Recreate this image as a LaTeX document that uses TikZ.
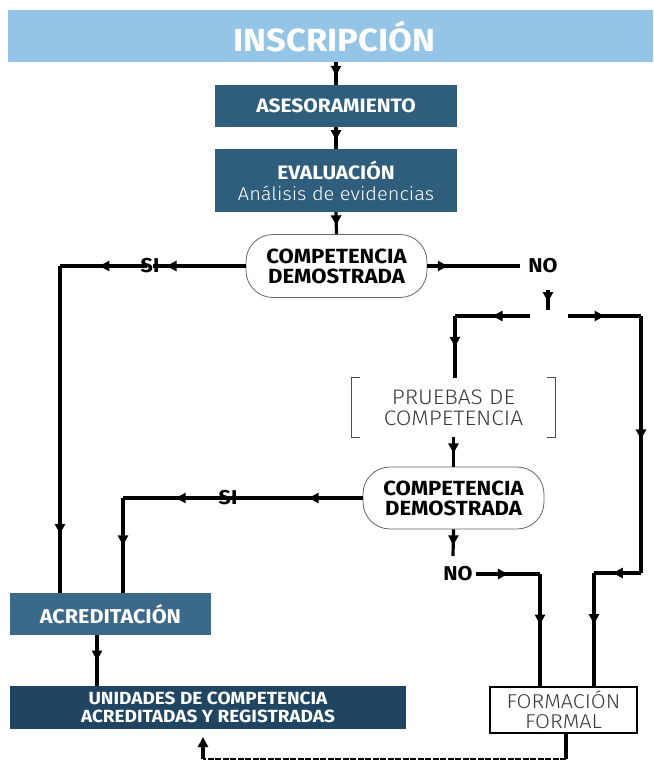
\documentclass[tikz,border=0pt]{standalone}
\usepackage{fontspec}
\setmainfont{Fira Sans}[FakeStretch=1.08]
\newfontfamily\lightf{Fira Sans}[UprightFont={* Light},FakeStretch=1.08]
\usetikzlibrary{arrows.meta,decorations.markings,positioning}
\definecolor{lblue}{HTML}{95C5E6}
\definecolor{dblue}{HTML}{2F5D7C}
\definecolor{mblue}{HTML}{3A6989}
\definecolor{nblue}{HTML}{1F4562}
\definecolor{gtext}{HTML}{3A3A3A}
\tikzset{
  flow/.style={line width=3.2pt,black},
  ma/.style={postaction={decorate},decoration={markings,mark=at position #1 with {\arrow{Triangle[length=10pt,width=10pt]}}}},
  bluebox/.style={rectangle,fill=dblue,text=white,inner sep=0pt,align=center,font=\bfseries\fontsize{19.4}{22}\selectfont},
  pill/.style={rectangle,rounded corners=27pt,draw=black!60,line width=0.8pt,fill=white,inner sep=0pt,align=center,minimum width=181pt,font=\bfseries\fontsize{20.5}{20}\selectfont},
  lbl/.style={inner sep=0pt,font=\bfseries\fontsize{20}{22}\selectfont}
}
\begin{document}
\begin{tikzpicture}[x=1pt,y=-1pt]
\useasboundingbox (0,0) rectangle (653,760);
% nodes
\node[rectangle,fill=lblue,text=white,inner sep=0pt,minimum width=645pt,minimum height=52pt,font=\bfseries\fontsize{32}{36}\selectfont] (insc) at (330.5,36) {\hspace*{8pt}INSCRIPCIÓN};
\node[bluebox,minimum width=242pt,minimum height=42pt] (ases) at (336,106) {ASESORAMIENTO};
\node[bluebox,minimum width=242pt,minimum height=63pt] (eval) at (336,180.5) {EVALUACIÓN\\[-1pt]{\mdseries\lightf\fontsize{18.5}{20}\selectfont Análisis de evidencias}};
\node[pill,minimum height=63pt] (comp1) at (336.5,266) {COMPETENCIA\\DEMOSTRADA};
\node[lbl] (si1) at (150,266) {SI};
\node[lbl] (no1) at (543,266) {NO};
\node[inner sep=0pt,minimum width=203pt,minimum height=59pt,align=center,text=gtext,font=\lightf\fontsize{21}{21}\selectfont] (prue) at (453.5,407.5) {PRUEBAS DE\\COMPETENCIA};
\node[pill,minimum height=62pt] (comp2) at (453.5,498) {COMPETENCIA\\DEMOSTRADA};
\node[lbl] (si2) at (228,498) {SI};
\node[lbl] (no2) at (458,574) {NO};
\node[bluebox,fill=mblue,minimum width=201pt,minimum height=42pt,font=\bfseries\fontsize{20}{22}\selectfont] (acred) at (110.5,614) {ACREDITACIÓN};
\node[bluebox,fill=nblue,minimum width=396pt,minimum height=43pt,font=\bfseries\fontsize{17.6}{18.5}\selectfont] (unid) at (208,707.5) {UNIDADES DE COMPETENCIA\\ACREDITADAS Y REGISTRADAS};
\node[rectangle,draw=black,line width=1.2pt,fill=white,inner sep=0pt,minimum width=147pt,minimum height=46pt,align=center,text=gtext,font=\lightf\fontsize{20}{20}\selectfont] (fmf) at (563.5,710) {FORMACIÓN\\FORMAL};
% brackets of pruebas
\draw[black!70,line width=0.8pt] ([xshift=8pt]prue.north west) -- (prue.north west) -- (prue.south west) -- ([xshift=8pt]prue.south west);
\draw[black!70,line width=0.8pt] ([xshift=-8pt]prue.north east) -- (prue.north east) -- (prue.south east) -- ([xshift=-8pt]prue.south east);
% coordinates
\coordinate (c1) at (60,266);
\coordinate (c2) at (123,498);
\coordinate (n1a) at (548,290);
\coordinate (n1b) at (548,310);
\coordinate (bl) at (530,316);
\coordinate (blc) at (455,316);
\coordinate (br) at (568,316);
\coordinate (brc) at (641,316);
\coordinate (brd) at (641,573);
\coordinate (bre) at (594,573);
\coordinate (n2c) at (540,574);
\coordinate (n2a) at (453,556);
\coordinate (d1) at (566,759);
\coordinate (d2) at (203,759);
\coordinate (d3) at (203,737);
% connectors
\draw[flow,ma=0.6] (insc.south -| ases.north) -- (ases.north);
\draw[flow,ma=0.6] (ases.south) -- (eval.north);
\draw[flow,ma=0.6] (eval.south) -- (comp1.north);
\draw[flow,ma=0.85] (comp1.west) -- ([xshift=-7pt]si1.east);
\draw[flow,ma=0.55] ([xshift=7pt]si1.west) -- (c1);
\draw[flow,ma=0.82] (c1) -- (c1 |- acred.north);
\draw[flow,ma=0.22] (comp1.east) -- ([xshift=-8pt]no1.west);
\draw[flow,ma=0.6] (n1a) -- (n1b);
\draw[flow,ma=0.5] (bl) -- (blc);
\draw[flow,ma=0.5] (blc) -- (blc |- prue.north);
\draw[flow,ma=0.5] (br) -- (brc);
\draw[flow,ma=0.48] (brc) -- (brd);
\draw[flow,ma=0.6] (brd) -- (bre);
\draw[flow,ma=0.45] (bre) -- (bre |- fmf.north);
\draw[flow,ma=0.55] (prue.south -| comp2.north) -- (comp2.north);
\draw[flow,ma=0.4] (comp2.west) -- ([xshift=-10pt]si2.east);
\draw[flow,ma=0.5] ([xshift=10pt]si2.west) -- (c2);
\draw[flow,ma=0.5] (c2) -- (c2 |- acred.north);
\draw[flow,ma=0.6] (comp2.south) -- (n2a);
\draw[flow,ma=0.5] ([xshift=3pt]no2.east) -- (n2c);
\draw[flow,ma=0.45] (n2c) -- (n2c |- fmf.north);
\draw[flow,ma=0.5] (acred.south -| 97,0) -- (unid.north -| 97,0);
\draw[flow] (fmf.south -| d1) -- (d1);
\draw[flow,dashed,dash pattern=on 6pt off 1.5pt,line width=2pt] (d1) -- (d2);
\draw[flow,-{Triangle[length=10pt,width=10pt]}] (d2) -- (d3);
\end{tikzpicture}
\end{document}
